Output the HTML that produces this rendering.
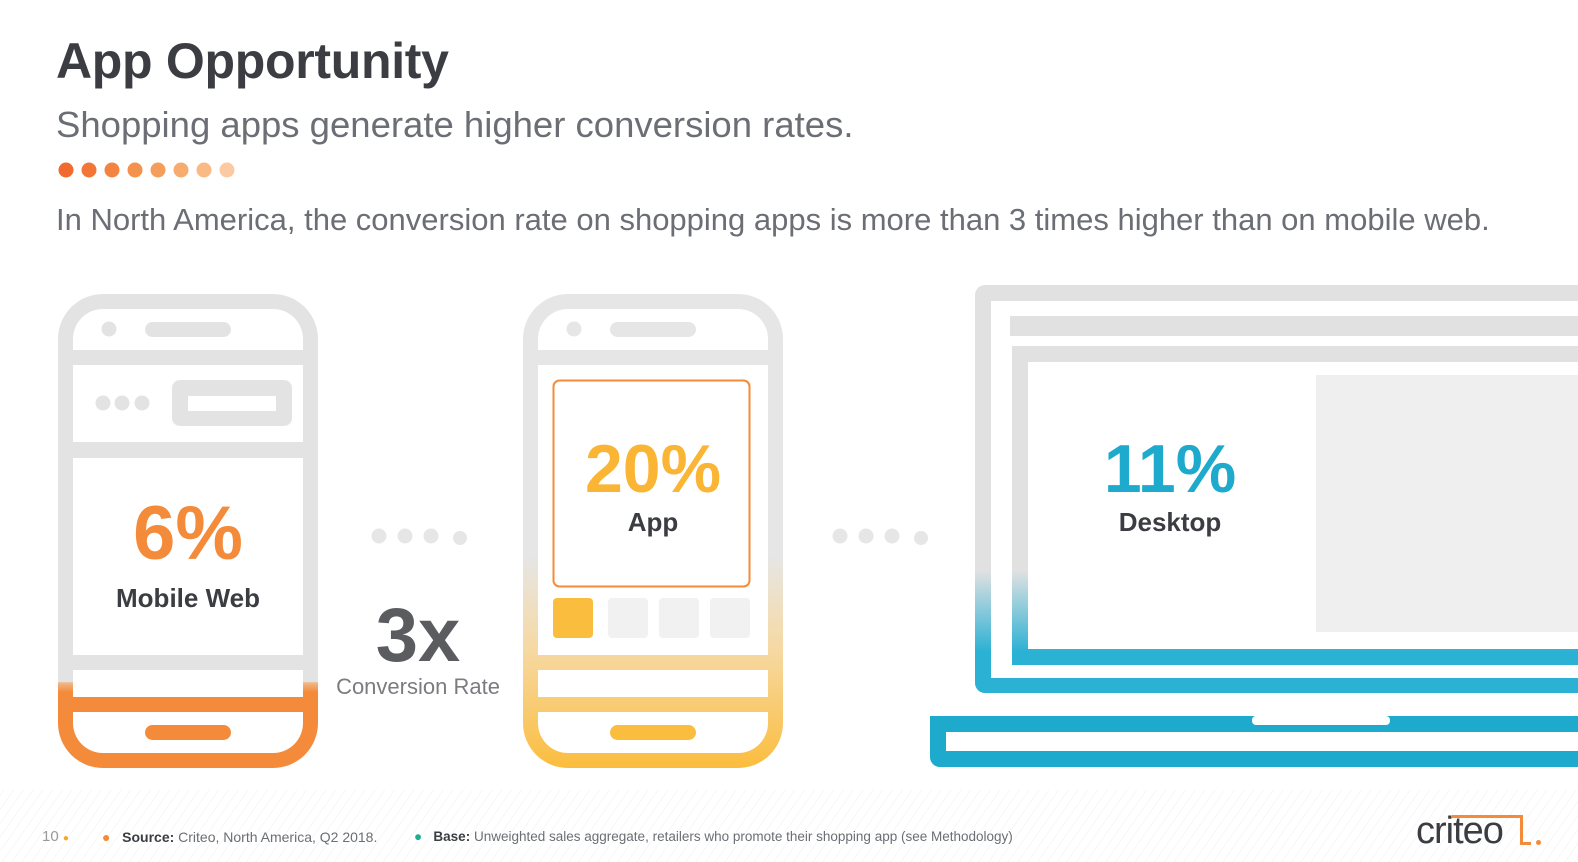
<!DOCTYPE html>
<html><head><meta charset="utf-8"><style>
body{margin:0;width:1578px;height:862px;overflow:hidden;background:#fff;font-family:"Liberation Sans",sans-serif;position:relative}
.t{position:absolute;white-space:nowrap}
</style></head><body>
<svg width="1578" height="862" style="position:absolute;left:0;top:0">
<defs>
<pattern id="hatch" width="8" height="8" patternUnits="userSpaceOnUse" patternTransform="rotate(35)"><line x1="0" y1="0" x2="0" y2="8" stroke="#efefef" stroke-width="1"/></pattern>
<linearGradient id="g1" x1="0" y1="294" x2="0" y2="768" gradientUnits="userSpaceOnUse"><stop offset="0.818" stop-color="#e3e3e3"/><stop offset="0.82" stop-color="#f0b98a"/><stop offset="0.84" stop-color="#f38b3a"/></linearGradient>
<linearGradient id="g2" x1="0" y1="294" x2="0" y2="768" gradientUnits="userSpaceOnUse"><stop offset="0.55" stop-color="#e6e6e6"/><stop offset="0.75" stop-color="#f6d9a3"/><stop offset="1" stop-color="#fbbd3e"/></linearGradient>
<linearGradient id="g3" x1="0" y1="285" x2="0" y2="693" gradientUnits="userSpaceOnUse"><stop offset="0.7" stop-color="#e1e1e1"/><stop offset="0.9" stop-color="#2bb1d4"/></linearGradient>
</defs>
<rect x="0" y="790" width="1578" height="72" fill="url(#hatch)"/>
<g>
<circle cx="66" cy="170" r="7.5" fill="#f16a2f"/><circle cx="89" cy="170" r="7.5" fill="#f27737"/><circle cx="112" cy="170" r="7.5" fill="#f38440"/><circle cx="135" cy="170" r="7.5" fill="#f4914b"/><circle cx="158" cy="170" r="7.5" fill="#f59d5a"/><circle cx="181" cy="170" r="7.5" fill="#f7ab6d"/><circle cx="204" cy="170" r="7.5" fill="#f9ba85"/><circle cx="227" cy="170" r="7.5" fill="#fbcaa3"/>
</g>
<g fill="url(#g1)">
<path fill-rule="evenodd" d="M103 294h170a45 45 0 0 1 45 45v384a45 45 0 0 1-45 45H103a45 45 0 0 1-45-45V339a45 45 0 0 1 45-45zM103 309a30 30 0 0 0-30 30v384a30 30 0 0 0 30 30h170a30 30 0 0 0 30-30V339a30 30 0 0 0-30-30z"/>
<rect x="70" y="350" width="236" height="15"/><rect x="70" y="442" width="236" height="16"/><rect x="70" y="655" width="236" height="15"/><rect x="70" y="697" width="236" height="15"/>
<circle cx="109" cy="329" r="7.5"/><rect x="145" y="322" width="86" height="15" rx="7.5"/>
<circle cx="103" cy="403" r="7.5"/><circle cx="122" cy="403" r="7.5"/><circle cx="142" cy="403" r="7.5"/>
<path fill-rule="evenodd" d="M180 380h104a8 8 0 0 1 8 8v30a8 8 0 0 1-8 8H180a8 8 0 0 1-8-8v-30a8 8 0 0 1 8-8zM188 396v15h88v-15z"/>
<rect x="145" y="725" width="86" height="15" rx="7.5"/>
</g>
<g fill="url(#g2)">
<path fill-rule="evenodd" d="M568 294h170a45 45 0 0 1 45 45v384a45 45 0 0 1-45 45H568a45 45 0 0 1-45-45V339a45 45 0 0 1 45-45zM568 309a30 30 0 0 0-30 30v384a30 30 0 0 0 30 30h170a30 30 0 0 0 30-30V339a30 30 0 0 0-30-30z"/>
<rect x="535" y="350" width="236" height="15"/><rect x="535" y="655" width="236" height="15"/><rect x="535" y="697" width="236" height="15"/>
<circle cx="574" cy="329" r="7.5"/><rect x="610" y="322" width="86" height="15" rx="7.5"/>
</g>
<rect x="610" y="725" width="86" height="15" rx="7.5" fill="#fbbd3e"/>
<rect x="553.5" y="380.5" width="196" height="206" rx="6" fill="none" stroke="#f38b3a" stroke-width="2"/>
<rect x="553" y="598" width="40" height="40" rx="4" fill="#fbbd3e"/>
<rect x="608" y="598" width="40" height="40" rx="4" fill="#f1f1f1"/>
<rect x="659" y="598" width="40" height="40" rx="4" fill="#f1f1f1"/>
<rect x="710" y="598" width="40" height="40" rx="4" fill="#f1f1f1"/>
<g fill="#e6e6e6"><circle cx="379" cy="536" r="7.5"/><circle cx="405" cy="536" r="7.5"/><circle cx="431" cy="536" r="7.5"/><circle cx="460" cy="538" r="7"/>
<circle cx="840" cy="536" r="7.5"/><circle cx="866" cy="536" r="7.5"/><circle cx="892" cy="536" r="7.5"/><circle cx="921" cy="538" r="7"/></g>
<g fill="url(#g3)">
<path fill-rule="evenodd" d="M985 285H1590V693H985a10 10 0 0 1-10-10V295a10 10 0 0 1 10-10zM991 301V678H1590V301z"/>
<rect x="1010" y="316" width="580" height="20"/>
<path fill-rule="evenodd" d="M1012 346H1590V665H1012zM1028 362V649H1590V362z"/>
</g>
<rect x="1316" y="375" width="262" height="257" fill="#efefef"/>
<path fill-rule="evenodd" fill="#1eaacd" d="M930 716H1590V767H940a10 10 0 0 1-10-10zM946 732V751H1590V732z"/>
<rect x="1252" y="716" width="138" height="9" rx="4" fill="#fff"/>
</svg>
<div class="t" style="left:56px;top:32px;font-size:50px;font-weight:bold;color:#3b3d42;letter-spacing:-0.3px">App Opportunity</div>
<div class="t" style="left:56px;top:104px;font-size:36.5px;color:#6b6e74">Shopping apps generate higher conversion rates.</div>
<div class="t" style="left:56px;top:202px;font-size:31px;color:#6b6e74">In North America, the conversion rate on shopping apps is more than 3 times higher than on mobile web.</div>
<div class="t" style="left:58px;width:260px;text-align:center;top:490px;font-size:76px;font-weight:bold;color:#f38b3a">6%</div>
<div class="t" style="left:58px;width:260px;text-align:center;top:583px;font-size:26px;font-weight:bold;color:#3b3d42">Mobile Web</div>
<div class="t" style="left:523px;width:260px;text-align:center;top:430px;font-size:68px;font-weight:bold;color:#fbb534">20%</div>
<div class="t" style="left:523px;width:260px;text-align:center;top:507px;font-size:26px;font-weight:bold;color:#3b3d42">App</div>
<div class="t" style="left:1040px;width:260px;text-align:center;top:430px;font-size:68px;font-weight:bold;color:#1eaacd">11%</div>
<div class="t" style="left:1040px;width:260px;text-align:center;top:507px;font-size:26px;font-weight:bold;color:#3b3d42">Desktop</div>
<div class="t" style="left:318px;width:200px;text-align:center;top:592px;font-size:76px;font-weight:bold;color:#5a5c60">3x</div>
<div class="t" style="left:318px;width:200px;text-align:center;top:674px;font-size:22px;color:#7a7c80">Conversion Rate</div>
<div class="t" style="left:42px;top:828px;font-size:15px;color:#999">10 <span style="color:#f5a623;font-size:10px">●</span></div>
<div class="t" style="left:102px;top:829px;font-size:14px;color:#6b6e74"><span style="color:#f38b3a">●</span>&nbsp;&nbsp; <b style="color:#3b3d42">Source:</b> Criteo, North America, Q2 2018.</div>
<div class="t" style="left:414px;top:829px;font-size:13.5px;color:#6b6e74"><span style="color:#1fae8f">●</span>&nbsp;&nbsp; <b style="color:#3b3d42">Base:</b> Unweighted sales aggregate, retailers who promote their shopping app (see Methodology)</div>
<div class="t" style="left:1416px;top:810px;font-size:38px;color:#3b3d42;letter-spacing:-1px">criteo</div>
<div style="position:absolute;left:1452px;top:815px;width:68px;height:3px;background:#f38b3a"></div>
<div style="position:absolute;left:1520px;top:815px;width:3px;height:30px;background:#f38b3a"></div>
<div style="position:absolute;left:1523px;top:842px;width:8px;height:3px;background:#f38b3a"></div>
<div style="position:absolute;left:1536px;top:840px;width:5px;height:5px;border-radius:50%;background:#f38b3a"></div>
</body></html>
